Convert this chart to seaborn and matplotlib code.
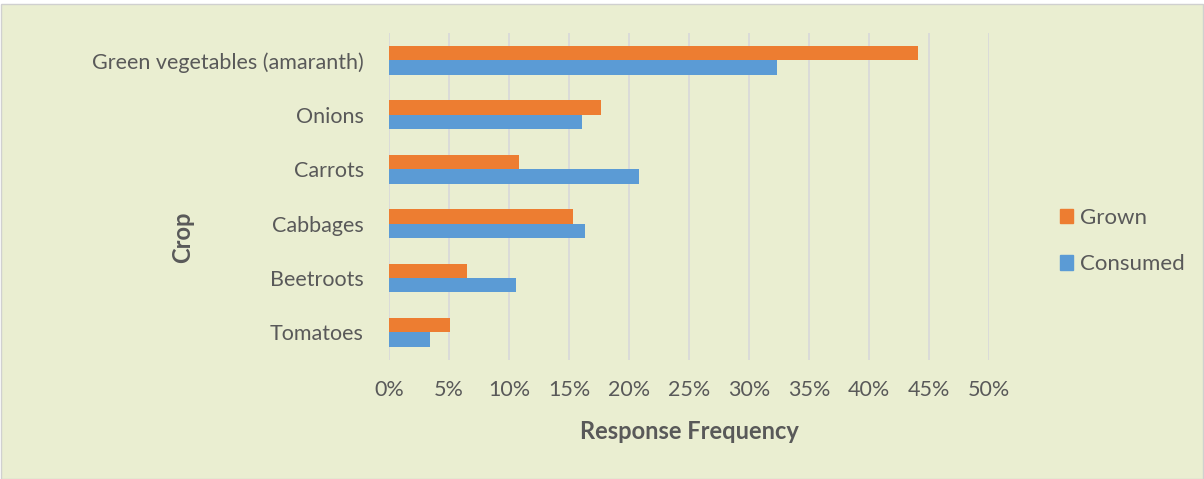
import matplotlib.pyplot as plt
import matplotlib.patches as mpatches
import seaborn as sns
import pandas as pd

crops = ['Green vegetables (amaranth)', 'Onions', 'Carrots', 'Cabbages', 'Beetroots', 'Tomatoes']
grown = [44.1, 17.7, 10.8, 15.3, 6.5, 5.1]
consumed = [32.3, 16.1, 20.8, 16.3, 10.6, 3.4]
x_ticks = [0, 5, 10, 15, 20, 25, 30, 35, 40, 45, 50]

df = pd.DataFrame({
    'Crop': crops * 2,
    'Value': grown + consumed,
    'Type': ['Grown'] * len(crops) + ['Consumed'] * len(crops),
})

sns.set_theme(style='white')
plt.rcParams['font.family'] = ['Lato', 'DejaVu Sans']
txt = '#595959'
bg = '#EAEED1'

fig = plt.figure(figsize=(12.04, 4.79), dpi=100, facecolor='white')
fig.patches.append(mpatches.Rectangle((0.0008, 0.0), 0.9984, 1 - 4 / 479, transform=fig.transFigure,
                                      facecolor=bg, edgecolor='#D0D0D0', linewidth=1, zorder=-10))
ax = fig.add_axes([389 / 1204, 1 - 359.5 / 479, 600 / 1204, (359.5 - 33.3) / 479])
ax.set_facecolor('none')

sns.barplot(data=df, y='Crop', x='Value', hue='Type', order=crops, hue_order=['Grown', 'Consumed'],
            palette={'Grown': '#ED7D31', 'Consumed': '#5B9BD5'}, orient='h', width=0.53,
            saturation=1, linewidth=0, ax=ax, legend=False)

ax.set_xlim(0, 50)
ax.set_xticks(x_ticks)
ax.set_xticklabels([f'{t}%' for t in x_ticks])
ax.grid(axis='x', color='#D9D9D9', linewidth=1.3)
ax.set_axisbelow(True)
for s in ax.spines.values():
    s.set_visible(False)
ax.tick_params(axis='x', length=0, pad=15, labelsize=15.5, labelcolor=txt)
ax.tick_params(axis='y', length=0, pad=18, labelsize=15.5, labelcolor=txt)
ax.set_xlabel('Response Frequency', fontsize=17, fontweight='bold', color=txt, labelpad=14)
ax.set_ylabel('Crop', fontsize=17, fontweight='bold', color=txt)
ax.yaxis.set_label_coords((194 - 389) / 600, (359.5 - 237) / 326.2)

handles = [mpatches.Patch(color='#ED7D31', label='Grown'),
           mpatches.Patch(color='#5B9BD5', label='Consumed')]
fig.legend(handles=handles, loc='center left', bbox_to_anchor=(1040 / 1204, 1 - 241 / 479),
           frameon=False, fontsize=16, labelcolor=txt, handlelength=0.6, handleheight=0.6,
           handletextpad=0.3, labelspacing=1.2)

fig.savefig('out.png', dpi=100, facecolor=fig.get_facecolor())
